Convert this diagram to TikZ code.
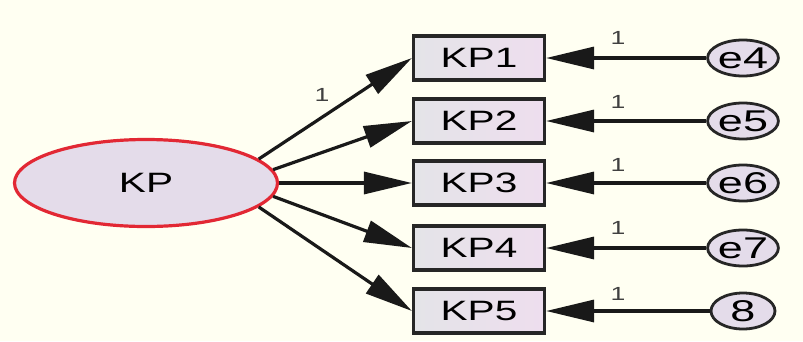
\documentclass[tikz,border=0pt]{standalone}
\usepackage{fontspec}
\setmainfont{Liberation Sans}
\usetikzlibrary{arrows.meta,shapes.geometric}
\definecolor{bg}{RGB}{255,255,242}
\definecolor{boxl}{RGB}{228,228,232}
\definecolor{boxr}{RGB}{238,222,238}
\definecolor{ellfill}{RGB}{228,220,234}
\definecolor{ellred}{RGB}{226,40,52}
\newcommand{\wtxt}[3]{\scalebox{#2}[1]{\fontsize{#1}{#1}\selectfont #3}}
\tikzset{
  obs/.style={draw=black!85, line width=3.2pt, left color=boxl, right color=boxr,
    minimum width=131pt, minimum height=44pt, inner sep=0pt},
  lat/.style={ellipse, draw=ellred, line width=3.2pt, fill=ellfill,
    minimum width=263pt, minimum height=87pt, inner sep=0pt},
  err/.style={ellipse, draw=black!85, line width=2.8pt, fill=ellfill,
    minimum width=64pt, minimum height=36pt, inner sep=0pt},
  path/.style={line width=3.2pt, black!90, -{Triangle[length=48pt,width=22pt]}},
  wlab/.style={inner sep=0pt, text=black!75}
}
\begin{document}
\begin{tikzpicture}[x=1pt,y=-1pt]
\fill[bg] (0,0) rectangle (803,341);
\useasboundingbox (0,0) rectangle (803,341);
\node[lat] (KP) at (146,183) {\wtxt{28}{1.45}{KP}};
\foreach \i/\y/\e/\a in {1/58/e4/12,2/121/e5/6,3/183/e6/0,4/248/e7/-6,5/311/8/-12}{
  \node[obs] (KP\i) at (479,\y) {\wtxt{28}{1.45}{KP\i}};
  \node[err] (E\i) at (743,\y) {\wtxt{30}{1.5}{\e}};
  \draw[path] (KP.\a) -- (KP\i.west);
  \draw[path] (E\i) -- (KP\i.east);
}
\foreach \i/\y in {1/38,2/102,3/165,4/228,5/294}{
  \node[wlab] (L\i) at (618,\y) {\wtxt{19}{1.4}{1}};
}
\node[wlab] (L0) at (322,95) {\wtxt{19}{1.4}{1}};
\end{tikzpicture}
\end{document}
